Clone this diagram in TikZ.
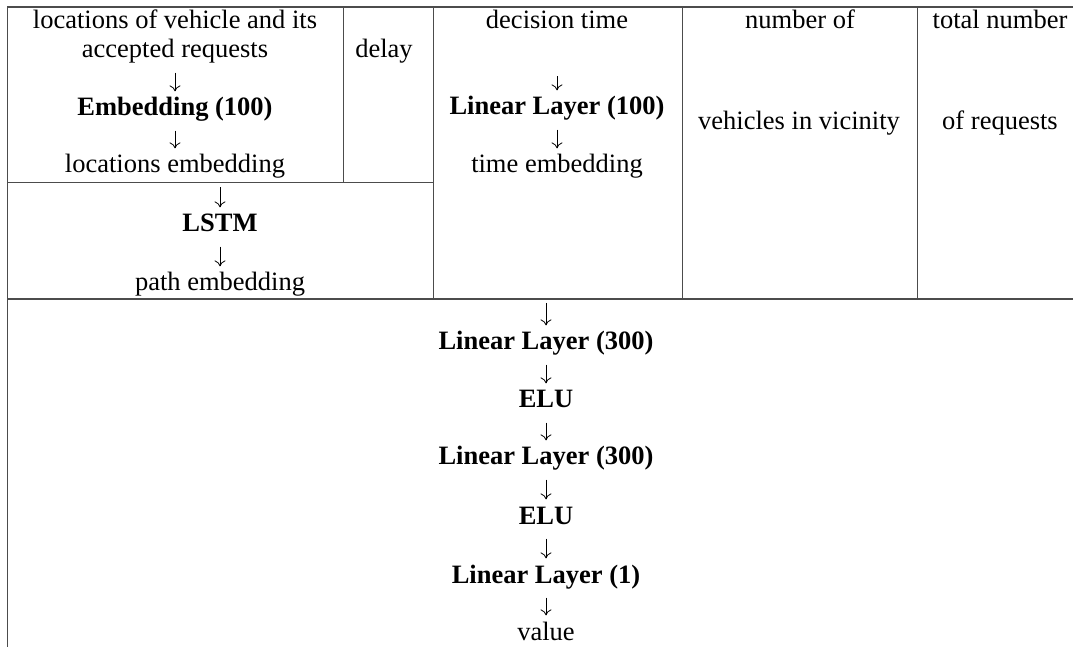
\documentclass[tikz,border=0pt]{standalone}
\usepackage{fontspec}
\setmainfont{Liberation Serif}
\usetikzlibrary{arrows.meta}

\tikzset{
  cell/.style={font=\fontsize{13.25}{15}\selectfont, inner sep=0pt, text height=9.3pt, text depth=3.3pt, anchor=base},
  layer/.style={cell, font=\fontsize{13.25}{15}\selectfont\bfseries},
  flow/.style={-{To[length=3pt,width=5.5pt]}, line width=0.4pt, shorten <=3.8pt, shorten >=2.8pt},
  rule/.style={color=black!70, line width=0.5pt}
}

\begin{document}
\begin{tikzpicture}[x=0.5pt,y=0.5pt,yscale=-1,xscale=1]
        \path[use as bounding box] (0,0) rectangle (1073,647);

        %Table Lines
        \draw [rule, line width=0.7pt] (7,7) -- (1073,7) ;
        \draw [rule] (7,7) -- (7,647) ;
        \draw [rule] (343,7) -- (343,183) ;
        \draw [rule] (433,7) -- (433,299) ;
        \draw [rule] (7,183) -- (433,183) ;
        \draw [rule] (682,7) -- (682,299) ;
        \draw [rule] (917,7) -- (917,299) ;
        \draw [rule, line width=0.7pt] (7,299) -- (1073,299) ;

        %Locations column
        \node [cell] (locA) at (175,29) {locations of vehicle and its};
        \node [cell] (locB) at (175,58) {accepted requests};
        \node [layer] (embed) at (175,116) {Embedding (100)};
        \node [cell] (locemb) at (175,173) {locations embedding};
        \node [layer] (lstm) at (220,232) {LSTM};
        \node [cell] (pathemb) at (220,291) {path embedding};

        %Delay column
        \node [cell] (delay) at (384,58) {delay};

        %Decision time column
        \node [cell] (dtime) at (557,29) {decision time};
        \node [layer] (lin100) at (557,115) {Linear Layer (100)};
        \node [cell] (timeemb) at (557,173) {time embedding};

        %Vehicles column
        \node [cell] (numof) at (800,29) {number of};
        \node [cell] (vehvic) at (799,130) {vehicles in vicinity};

        %Requests column
        \node [cell] (totnum) at (1000,29) {total number};
        \node [cell] (ofreq) at (1000,130) {of requests};

        %Value network
        \coordinate (join) at (546,303);
        \node [layer] (linA) at (546,350) {Linear Layer (300)};
        \node [layer] (eluA) at (546,408) {ELU};
        \node [layer] (linB) at (546,465) {Linear Layer (300)};
        \node [layer] (eluB) at (546,524) {ELU};
        \node [layer] (linC) at (546,583) {Linear Layer (1)};
        \node [cell] (value) at (546,640) {value};

        %Arrows
        \draw [flow] (locB) -- (embed) ;
        \draw [flow] (embed) -- (locemb) ;
        \draw [flow, shorten <=3.6pt] (locemb.south -| lstm) -- (lstm) ;
        \draw [flow] (lstm) -- (pathemb) ;
        \draw [flow, shorten <=20.2pt] (dtime) -- (lin100) ;
        \draw [flow] (lin100) -- (timeemb) ;
        \draw [flow, shorten <=0pt] (join) -- (linA) ;
        \draw [flow] (linA) -- (eluA) ;
        \draw [flow] (eluA) -- (linB) ;
        \draw [flow] (linB) -- (eluB) ;
        \draw [flow] (eluB) -- (linC) ;
        \draw [flow] (linC) -- (value) ;
\end{tikzpicture}
\end{document}
